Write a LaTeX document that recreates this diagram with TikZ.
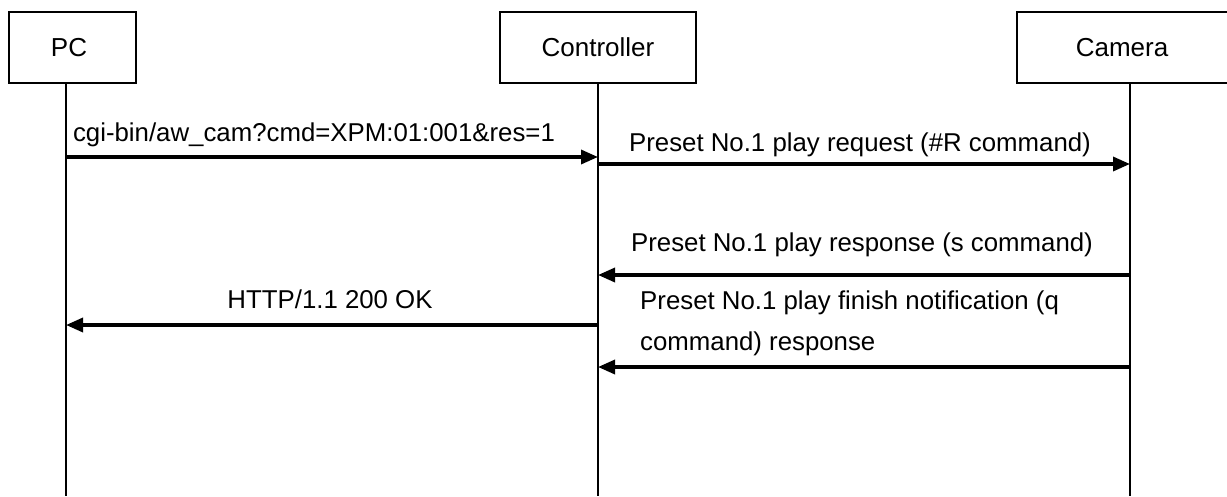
\documentclass[tikz,border=0pt]{standalone}
\usepackage{fontspec}
\setmainfont{Liberation Sans}
\usetikzlibrary{arrows.meta}
\begin{document}
\begin{tikzpicture}[x=1pt,y=-1pt,
  actor/.style={draw,line width=2pt,minimum height=71pt,inner sep=0pt,font=\fontsize{26}{30}\selectfont},
  life/.style={line width=2pt},
  msg/.style={line width=3.4pt,-{Triangle[length=17pt,width=14pt]}},
  lbl/.style={inner sep=0pt,font=\fontsize{25.8}{30}\selectfont}]
\useasboundingbox (0,0) rectangle (1227,496);
\clip (0,0) rectangle (1227,496);
% actors
\node[actor,minimum width=127pt] (pc) at (72.5,47.5) {};
\node[lbl,font=\fontsize{26}{30}\selectfont] (pct) at (69,48) {PC};
\node[actor,minimum width=196pt] (ctl) at (598,47.5) {Controller};
\node[actor,minimum width=228pt] (cam) at (1131,47.5) {};
\node[lbl,font=\fontsize{26}{30}\selectfont] (camt) at (1122,48) {Camera};
% lifeline ends
\coordinate (pcb) at (66,496);
\coordinate (ctlb) at (598,496);
\coordinate (camb) at (1130,496);
\coordinate (pct0) at (66,83);
\coordinate (camt0) at (1130,83);
\draw[life] (pct0) -- (pcb);
\draw[life] (ctl.south) -- (ctlb);
\draw[life] (camt0) -- (camb);
% messages
\coordinate (a1s) at (66,157); \coordinate (a1e) at (598,157);
\coordinate (a2s) at (598,164); \coordinate (a2e) at (1130,164);
\coordinate (a3s) at (1130,275); \coordinate (a3e) at (598,275);
\coordinate (a4s) at (598,325); \coordinate (a4e) at (66,325);
\coordinate (a5s) at (1130,367); \coordinate (a5e) at (598,367);
\draw[msg] (a1s) -- (a1e);
\draw[msg] (a2s) -- (a2e);
\draw[msg] (a3s) -- (a3e);
\draw[msg] (a4s) -- (a4e);
\draw[msg] (a5s) -- (a5e);
% labels
\node[lbl] (l1) at (314,135) {cgi-bin/aw\_cam?cmd=XPM:01:001\&res=1};
\node[lbl] (l2) at (860,145) {Preset No.1 play request (\#R command)};
\node[lbl] (l3) at (862,245) {Preset No.1 play response (s command)};
\node[lbl] (l4) at (330,299) {HTTP/1.1 200 OK};
\node[lbl,anchor=north west,align=left,font=\fontsize{25.8}{41}\selectfont] (l5) at (640,291) {Preset No.1 play finish notification (q\\command) response};
\end{tikzpicture}
\end{document}
